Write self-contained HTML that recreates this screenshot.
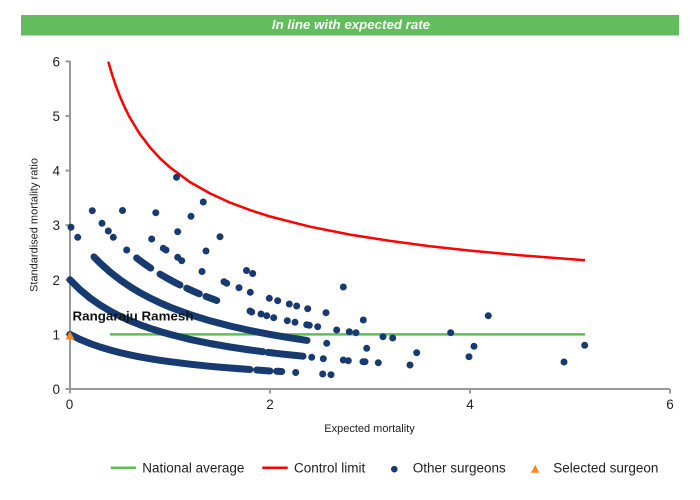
<!DOCTYPE html>
<html>
<head>
<meta charset="utf-8">
<style>
  html, body { margin: 0; padding: 0; background: #ffffff; }
  body { width: 700px; height: 500px; overflow: hidden; }
  svg { display: block; font-family: "Liberation Sans", Arial, sans-serif; }
</style>
</head>
<body>
<svg width="700" height="500" viewBox="0 0 700 500" xmlns="http://www.w3.org/2000/svg">
  <rect x="21" y="15" width="658" height="20.5" fill="#62bd5d"/>
  <text x="351" y="29" font-size="13.3" font-weight="bold" font-style="italic" fill="#ffffff" text-anchor="middle">In line with expected rate</text>

  <g stroke="#999999" stroke-width="2" fill="none">
    <line x1="70" y1="61" x2="70" y2="389"/>
    <line x1="69" y1="389" x2="670" y2="389"/>
    <line x1="65.5" y1="389" x2="70" y2="389"/>
    <line x1="65.5" y1="334.4" x2="70" y2="334.4"/>
    <line x1="65.5" y1="279.8" x2="70" y2="279.8"/>
    <line x1="65.5" y1="225.2" x2="70" y2="225.2"/>
    <line x1="65.5" y1="170.6" x2="70" y2="170.6"/>
    <line x1="65.5" y1="116" x2="70" y2="116"/>
    <line x1="65.5" y1="61.4" x2="70" y2="61.4"/>
    <line x1="70" y1="389" x2="70" y2="393.5"/>
    <line x1="270" y1="389" x2="270" y2="393.5"/>
    <line x1="470" y1="389" x2="470" y2="393.5"/>
    <line x1="670" y1="389" x2="670" y2="393.5"/>
  </g>

  <g font-size="13.5" fill="#222" text-anchor="end">
    <text x="60" y="394">0</text>
    <text x="60" y="339.4">1</text>
    <text x="60" y="284.8">2</text>
    <text x="60" y="230.2">3</text>
    <text x="60" y="175.6">4</text>
    <text x="60" y="121">5</text>
    <text x="60" y="66.4">6</text>
  </g>
  <g font-size="13.5" fill="#222" text-anchor="middle">
    <text x="69.5" y="409">0</text>
    <text x="270" y="409">2</text>
    <text x="470" y="409">4</text>
    <text x="670" y="409">6</text>
  </g>

  <text x="369.5" y="432" font-size="11" fill="#222" text-anchor="middle">Expected mortality</text>
  <text transform="translate(37.5,225) rotate(-90)" x="0" y="0" font-size="11" fill="#222" text-anchor="middle">Standardised mortality ratio</text>

  <line x1="110" y1="334.4" x2="585" y2="334.4" stroke="#64bb5c" stroke-width="2.5"/>

  <polyline fill="none" stroke="#ff0000" stroke-width="2.5" stroke-linejoin="round"
    points="108.3,61.7 112,74.4 116,86.3 120,96.7 125,108 130,117.9 140,134.3 150,147.4 160,158.3 170,167.4 190,182.1 210,193.4 230,202.6 250,210.1 270,216.5 310,226.7 350,234.6 390,240.9 430,246.2 470,250.6 520,255.3 585,260.3"/>

  <g fill="none" stroke="#173a70" stroke-width="7" stroke-linecap="round" stroke-linejoin="round">
    <polyline points="70,334.4 80,339.4 90,343.5 100,347 110,350 120,352.6 130,354.9 140,356.9 150,358.7 160,360.3 170,361.7 190,364.2 210,366.3 230,368 250,369.5"/>
    <polyline points="256.7,370 270,371"/>
    <polyline points="276.7,371.2 281.7,371.5"/>
    <polyline points="70,279.8 80,289.7 90,298 100,305 110,311 120,316.2 130,320.8 140,324.8 150,328.3 160,331.5 170,334.4 190,339.4 210,343.5 230,347 250,350 263,351.7"/>
    <polyline points="268,352.4 280,353.8 290,354.9 303,356.2"/>
    <polyline points="94,256.9 100,263 110,272 120,279.8 130,286.6 140,292.7 150,298 160,302.8 170,307.1 190,314.6 210,320.8 230,326 250,330.5 270,334.4 290,337.8 307,340.4"/>
    <polyline points="136.7,258 140.7,261.1 144.7,264 148.7,266.8 150.7,268.1"/>
    <polyline points="160,274.1 165,277 170,279.8 175,282.5 180,285"/>
    <polyline points="186.7,288.2 193,291.1 199.3,293.8"/>
    <polyline points="206,296.5 211,298.4 216.7,300.5"/>
  </g>

  <g fill="#173a70">
    <circle cx="295.7" cy="372.5" r="3.5"/>
    <circle cx="176.5" cy="177.3" r="3.5"/>
    <circle cx="203.3" cy="202" r="3.5"/>
    <circle cx="92.3" cy="210.7" r="3.5"/>
    <circle cx="122.5" cy="210.5" r="3.5"/>
    <circle cx="155.8" cy="212.7" r="3.5"/>
    <circle cx="191" cy="216.3" r="3.5"/>
    <circle cx="71" cy="227.3" r="3.5"/>
    <circle cx="102" cy="223.3" r="3.5"/>
    <circle cx="108.3" cy="231" r="3.5"/>
    <circle cx="113.3" cy="237.3" r="3.5"/>
    <circle cx="77.7" cy="237.3" r="3.5"/>
    <circle cx="177.7" cy="231.7" r="3.5"/>
    <circle cx="151.7" cy="239" r="3.5"/>
    <circle cx="220" cy="236.7" r="3.5"/>
    <circle cx="126.7" cy="250" r="3.5"/>
    <circle cx="163.3" cy="248.3" r="3.5"/>
    <circle cx="166" cy="250" r="3.5"/>
    <circle cx="206" cy="251" r="3.5"/>
    <circle cx="177.7" cy="257.3" r="3.5"/>
    <circle cx="181.7" cy="260.7" r="3.5"/>
    <circle cx="202" cy="271.5" r="3.5"/>
    <circle cx="246.5" cy="270.5" r="3.5"/>
    <circle cx="252.7" cy="273.5" r="3.5"/>
    <circle cx="224" cy="281.7" r="3.5"/>
    <circle cx="226.7" cy="283.3" r="3.5"/>
    <circle cx="239" cy="287.7" r="3.5"/>
    <circle cx="250.3" cy="292.3" r="3.5"/>
    <circle cx="269.3" cy="298.3" r="3.5"/>
    <circle cx="277.7" cy="300.7" r="3.5"/>
    <circle cx="289.3" cy="304" r="3.5"/>
    <circle cx="296.7" cy="306" r="3.5"/>
    <circle cx="307.7" cy="308.7" r="3.5"/>
    <circle cx="326" cy="312.7" r="3.5"/>
    <circle cx="250" cy="311" r="3.5"/>
    <circle cx="251.7" cy="312" r="3.5"/>
    <circle cx="261" cy="314" r="3.5"/>
    <circle cx="266.7" cy="315.7" r="3.5"/>
    <circle cx="273.7" cy="317.7" r="3.5"/>
    <circle cx="287.3" cy="320.7" r="3.5"/>
    <circle cx="295" cy="322.3" r="3.5"/>
    <circle cx="306.7" cy="324.7" r="3.5"/>
    <circle cx="309.3" cy="325.3" r="3.5"/>
    <circle cx="317.7" cy="326.7" r="3.5"/>
    <circle cx="336.7" cy="330" r="3.5"/>
    <circle cx="349.3" cy="331.7" r="3.5"/>
    <circle cx="356" cy="332.7" r="3.5"/>
    <circle cx="383" cy="336.7" r="3.5"/>
    <circle cx="392.7" cy="338" r="3.5"/>
    <circle cx="343.3" cy="287" r="3.5"/>
    <circle cx="363.3" cy="320" r="3.5"/>
    <circle cx="326.7" cy="343.3" r="3.5"/>
    <circle cx="366.7" cy="348.3" r="3.5"/>
    <circle cx="311.7" cy="357.3" r="3.5"/>
    <circle cx="323.3" cy="358.7" r="3.5"/>
    <circle cx="343.3" cy="360" r="3.5"/>
    <circle cx="348.3" cy="360.7" r="3.5"/>
    <circle cx="363" cy="361.7" r="3.5"/>
    <circle cx="365" cy="361.7" r="3.5"/>
    <circle cx="378.3" cy="362.7" r="3.5"/>
    <circle cx="410" cy="365" r="3.5"/>
    <circle cx="322.7" cy="374" r="3.5"/>
    <circle cx="331" cy="374.7" r="3.5"/>
    <circle cx="450.7" cy="332.7" r="3.5"/>
    <circle cx="488.3" cy="315.7" r="3.5"/>
    <circle cx="474" cy="346.3" r="3.5"/>
    <circle cx="469" cy="356.7" r="3.5"/>
    <circle cx="416.7" cy="352.7" r="3.5"/>
    <circle cx="584.7" cy="345.3" r="3.5"/>
    <circle cx="564" cy="362" r="3.5"/>
  </g>

  <polygon points="65.5,339.5 74.5,339.5 70,331" fill="#f5891f"/>

  <text x="72.5" y="320.7" font-size="13" font-weight="bold" fill="#111" textLength="121" lengthAdjust="spacingAndGlyphs">Rangaraju Ramesh</text>

  <line x1="110.7" y1="467.7" x2="136" y2="467.7" stroke="#64bb5c" stroke-width="2.5"/>
  <text x="142.3" y="472.7" font-size="13.5" fill="#222">National average</text>
  <line x1="262.3" y1="467.7" x2="287.7" y2="467.7" stroke="#ff0000" stroke-width="2.5"/>
  <text x="294" y="472.7" font-size="13.5" fill="#222">Control limit</text>
  <circle cx="394.3" cy="469.2" r="3.3" fill="#173a70"/>
  <text x="412.7" y="472.7" font-size="13.5" fill="#222">Other surgeons</text>
  <polygon points="531,472.7 539.3,472.7 535.2,464.8" fill="#f5891f"/>
  <text x="553.3" y="472.7" font-size="13.5" fill="#222">Selected surgeon</text>
</svg>
</body>
</html>
